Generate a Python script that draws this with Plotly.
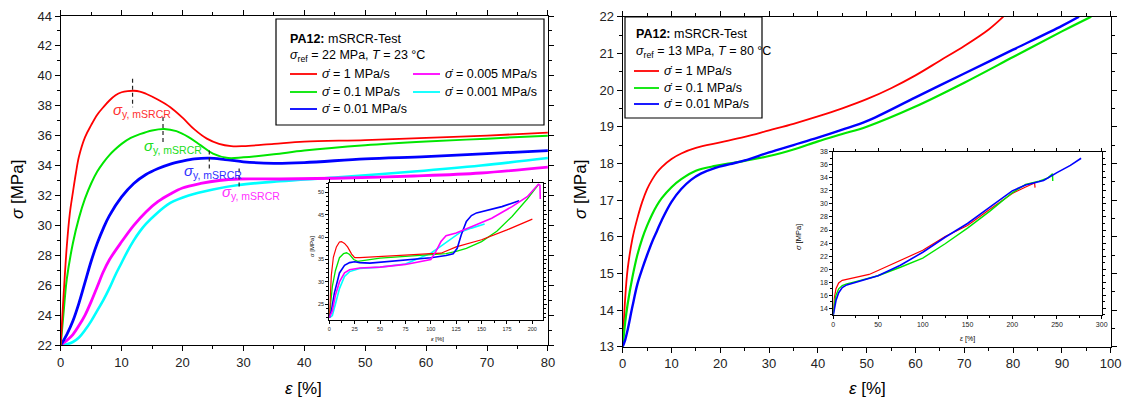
import plotly.graph_objects as go

W, H = 1123, 400
FONT = "Liberation Sans, Arial, sans-serif"

# ---------------- data: left main (T = 23 °C) ----------------
L_red_eps = [0, 0.25, 0.5, 1, 1.5, 2, 2.5, 3, 4, 5, 6, 7, 8, 9, 10, 11, 12, 13, 14, 16, 18, 20, 22, 24, 26, 28, 30, 35, 40, 50, 60, 70, 80]
L_red_sig = [22, 23.8, 25.5, 28.6, 30.8, 32.2, 33.5, 34.6, 35.9, 36.7, 37.4, 37.9, 38.35, 38.7, 38.9, 38.98, 39.0, 38.95, 38.8, 38.4, 37.9, 37.2, 36.4, 35.8, 35.45, 35.3, 35.3, 35.45, 35.6, 35.7, 35.85, 36.0, 36.2]
L_grn_eps = [0, 0.5, 1, 2, 3, 4, 5, 6, 7, 8, 9, 10, 11.5, 13, 15, 17, 19, 21, 23, 25, 27.5, 30, 35, 40, 50, 60, 70, 80]
L_grn_sig = [22, 24.3, 26.4, 28.8, 30.5, 31.8, 32.8, 33.6, 34.2, 34.7, 35.1, 35.45, 35.85, 36.1, 36.35, 36.45, 36.3, 35.9, 35.35, 34.8, 34.5, 34.55, 34.75, 35.0, 35.35, 35.6, 35.8, 36.0]
L_blu_eps = [0, 1, 2, 3, 4, 5, 6, 7, 8, 10, 12, 14, 16, 18, 20, 22, 24.4, 27, 30, 35, 40, 50, 60, 70, 80]
L_blu_sig = [22, 22.7, 23.6, 24.8, 26.2, 27.6, 28.8, 29.8, 30.65, 31.9, 32.8, 33.4, 33.8, 34.1, 34.3, 34.45, 34.5, 34.4, 34.25, 34.15, 34.2, 34.45, 34.6, 34.8, 35.0]
L_mag_eps = [0, 1, 2, 3, 4, 5, 6, 7, 8, 10, 12, 14, 16, 18, 20, 23, 26, 29.3, 36, 45, 58, 69, 80]
L_mag_sig = [22, 22.3, 22.7, 23.3, 24.0, 24.9, 25.9, 26.9, 27.7, 28.9, 30.0, 30.9, 31.6, 32.1, 32.5, 32.8, 33.0, 33.1, 33.1, 33.15, 33.3, 33.5, 33.9]
L_cya_eps = [0, 1, 2, 3, 4, 5, 6, 7, 8, 9, 10, 11, 12, 13, 14, 15.5, 18, 21, 25, 29.2, 36, 45, 58, 69, 80]
L_cya_sig = [22, 22.05, 22.2, 22.5, 23.0, 23.6, 24.3, 25.0, 25.8, 26.7, 27.5, 28.3, 29.0, 29.6, 30.1, 30.7, 31.5, 32.0, 32.4, 32.7, 32.95, 33.2, 33.6, 34.0, 34.5]

# yield points sigma_y,mSRCR (red, green, blue, magenta)
yield_eps = [11.8, 16.8, 24.4, 29.3]
yield_sig = [39.0, 36.45, 34.5, 33.1]

# ---------------- data: left inset ----------------
LI_red_eps = [0, 1, 2, 4, 7, 10, 12, 15, 18, 22, 25, 30, 50, 75, 100, 110, 118, 125, 150, 175, 200]
LI_red_sig = [22, 28, 31.5, 35.5, 37.8, 38.9, 39.0, 38.6, 37.8, 36.2, 35.4, 35.4, 35.7, 36.0, 36.3, 36.4, 37.2, 37.8, 39.4, 41.6, 44.0]
LI_grn_eps = [0, 1, 3, 6, 10, 14, 17, 20, 24, 28, 35, 50, 75, 100, 115, 125, 135, 150, 165, 180, 195, 206]
LI_grn_sig = [22, 25, 29, 32.5, 35.4, 36.3, 36.5, 36.1, 35.0, 34.6, 34.8, 35.3, 35.7, 36.0, 36.3, 36.8, 37.5, 39.0, 41.3, 44.6, 48.5, 51.7]
LI_blu_eps = [0, 2, 5, 10, 15, 20, 25, 30, 40, 60, 80, 100, 115, 122, 126, 130, 135, 140, 145, 155, 170, 187]
LI_blu_sig = [22, 23.5, 27.5, 32, 33.7, 34.3, 34.5, 34.3, 34.2, 34.6, 35.0, 35.4, 35.9, 36.3, 37.5, 40.5, 43.5, 44.8, 45.4, 46.0, 46.8, 48.1]
LI_mag_eps = [0, 3, 6, 10, 15, 20, 30, 50, 75, 95, 100, 105, 110, 115, 125, 140, 160, 180, 195, 206, 207.5, 207.8]
LI_mag_sig = [22, 23.5, 27, 30, 32, 32.7, 33.1, 33.3, 33.9, 34.7, 35.0, 36.8, 39.0, 40.3, 40.9, 42.3, 44.2, 46.8, 49.0, 51.8, 51.6, 48.5]
LI_cya_eps = [0, 3, 6, 10, 15, 20, 30, 50, 75, 100, 110, 120, 130, 140, 153]
LI_cya_sig = [22, 22.5, 25, 28.5, 31.2, 32.3, 33.0, 33.3, 34.0, 36.4, 38.0, 39.7, 41.2, 42.0, 42.9]

# ---------------- data: right main (T = 80 °C) ----------------
R_red_eps = [0, 0.5, 1, 2, 3, 4, 5, 6, 7, 8, 10, 12, 15, 20, 25, 30, 35, 40, 45, 50, 55, 60, 65, 70, 75, 78]
R_red_sig = [13, 14.3, 15.1, 15.95, 16.5, 16.95, 17.3, 17.55, 17.75, 17.9, 18.12, 18.27, 18.42, 18.57, 18.72, 18.9, 19.08, 19.28, 19.5, 19.75, 20.05, 20.4, 20.8, 21.2, 21.65, 22.0]
R_grn_eps = [0, 0.5, 1, 2, 3, 4, 5, 6, 7, 8, 10, 12, 15, 19, 22, 25, 30, 35, 40, 45, 50, 60, 70, 80, 90, 96]
R_grn_sig = [13, 13.65, 14.15, 14.9, 15.5, 15.95, 16.3, 16.6, 16.85, 17.05, 17.35, 17.57, 17.8, 17.93, 18.0, 18.07, 18.2, 18.38, 18.6, 18.8, 19.0, 19.55, 20.2, 20.9, 21.6, 22.0]
R_blu_eps = [0, 0.5, 1, 2, 3, 4, 5, 6, 7, 8, 10, 12, 14, 16, 19, 22, 25, 30, 35, 40, 45, 50, 60, 70, 80, 90, 93.5]
R_blu_sig = [13, 13.18, 13.45, 14.1, 14.7, 15.12, 15.5, 15.85, 16.15, 16.45, 16.95, 17.3, 17.55, 17.72, 17.88, 17.98, 18.08, 18.3, 18.5, 18.7, 18.92, 19.15, 19.8, 20.45, 21.1, 21.75, 22.0]

# ---------------- data: right inset ----------------
RI_red_eps = [0, 1, 3, 6, 10, 15, 25, 40, 50, 75, 100, 125, 150, 175, 200, 215, 225, 225.5]
RI_red_sig = [13, 15.5, 17.0, 17.9, 18.3, 18.45, 18.7, 19.2, 19.8, 21.3, 22.9, 25.0, 26.7, 29.2, 31.6, 32.6, 33.2, 32.5]
RI_grn_eps = [0, 1, 3, 6, 10, 15, 25, 40, 50, 75, 100, 125, 150, 175, 200, 215, 230, 240, 245, 245.3]
RI_grn_sig = [13, 14.5, 16.0, 17.0, 17.5, 17.75, 18.1, 18.6, 19.0, 20.3, 21.7, 23.9, 26.3, 28.9, 31.7, 33.0, 33.5, 34.0, 34.6, 33.5]
RI_blu_eps = [0, 1, 3, 6, 10, 15, 25, 40, 50, 75, 100, 125, 150, 175, 200, 215, 225, 235, 250, 265, 277]
RI_blu_sig = [13, 13.8, 15.2, 16.4, 17.2, 17.6, 18.0, 18.5, 19.0, 20.6, 22.6, 24.9, 27.0, 29.5, 32.0, 32.9, 33.2, 33.6, 34.8, 35.9, 37.0]

RED, GRN, BLU, MAG, CYA = "#ff0000", "#00e600", "#0000ff", "#ff00ff", "#00ffff"

def px(x):
    return x / W

def py(y):
    return 1 - y / H

fig = go.Figure()

def add(xs, ys, color, width, xa, ya, shape="spline"):
    fig.add_trace(go.Scatter(x=xs, y=ys, mode="lines", xaxis=xa, yaxis=ya,
                             line=dict(color=color, width=width, shape=shape, smoothing=1.0),
                             showlegend=False, hoverinfo="skip"))

# left main
add(L_cya_eps, L_cya_sig, CYA, 2.6, "x", "y")
add(L_mag_eps, L_mag_sig, MAG, 2.8, "x", "y")
add(L_blu_eps, L_blu_sig, BLU, 2.8, "x", "y")
add(L_grn_eps, L_grn_sig, GRN, 2.0, "x", "y")
add(L_red_eps, L_red_sig, RED, 1.8, "x", "y")
# left inset
add(LI_cya_eps, LI_cya_sig, CYA, 1.6, "x2", "y2", "linear")
add(LI_grn_eps, LI_grn_sig, GRN, 1.3, "x2", "y2", "linear")
add(LI_red_eps, LI_red_sig, RED, 1.2, "x2", "y2", "linear")
add(LI_blu_eps, LI_blu_sig, BLU, 1.6, "x2", "y2", "linear")
add(LI_mag_eps, LI_mag_sig, MAG, 1.6, "x2", "y2", "linear")
# right main
add(R_red_eps, R_red_sig, RED, 1.8, "x3", "y3")
add(R_grn_eps, R_grn_sig, GRN, 2.2, "x3", "y3")
add(R_blu_eps, R_blu_sig, BLU, 2.4, "x3", "y3")
# right inset
add(RI_red_eps, RI_red_sig, RED, 1.2, "x4", "y4", "linear")
add(RI_grn_eps, RI_grn_sig, GRN, 1.4, "x4", "y4", "linear")
add(RI_blu_eps, RI_blu_sig, BLU, 1.6, "x4", "y4", "linear")

# yield markers (dashed verticals)
up = [0.8, 0.8, 0.5, 0.7]
dn = [1.1, 0.95, 0.8, 0.7]
for e, s, u, d in zip(yield_eps, yield_sig, up, dn):
    fig.add_trace(go.Scatter(x=[e, e], y=[s + u, s - d], mode="lines", xaxis="x", yaxis="y",
                             line=dict(color="#222222", width=1.2, dash="4px,3px"),
                             showlegend=False, hoverinfo="skip"))

def axis(domain, rng, dtick, minor, fs, anchor, ticklen=5, mticklen=3):
    return dict(domain=domain, range=rng, dtick=dtick, tick0=0, ticks="outside",
                ticklen=ticklen, tickwidth=1, tickcolor="black",
                minor=dict(ticks="outside", dtick=minor, ticklen=mticklen, tickcolor="black", tickwidth=1),
                showline=True, linecolor="black", linewidth=1.2, mirror="ticks",
                showgrid=False, zeroline=False, anchor=anchor, automargin=False,
                tickfont=dict(family=FONT, size=fs, color="#222"))

yd = lambda top, bot: [py(bot), py(top)]

fig.update_layout(
    width=W, height=H, margin=dict(l=0, r=0, t=0, b=0, autoexpand=False),
    paper_bgcolor="white", plot_bgcolor="rgba(0,0,0,0)", showlegend=False,
    xaxis=axis([px(60.7), px(547.9)], [0, 80], 10, 5, 13, "y"),
    yaxis=axis(yd(16, 345), [22, 44], 2, 1, 13, "x"),
    xaxis2=axis([px(329.3), px(542.5)], [0, 210], 25, 12.5, 5.5, "y2", 3, 2),
    yaxis2=axis(yd(183.3, 320), [21.5, 52], 5, 1, 5.5, "x2", 3, 2),
    xaxis3=axis([px(622.7), px(1110.7)], [0, 100], 10, 5, 13, "y3"),
    yaxis3=axis(yd(16.7, 346.7), [13, 22], 1, 0.5, 13, "x3"),
    xaxis4=axis([px(833.3), px(1101.7)], [0, 300], 50, 25, 7, "y4", 3, 2),
    yaxis4=axis(yd(151.7, 314.9), [13, 38], 2, 1, 7, "x4", 3, 2),
)

ann = []
def text(x, y, t, size, color="black", xanchor="left", angle=0):
    ann.append(dict(x=px(x), y=py(y), xref="paper", yref="paper", text=t, showarrow=False,
                    xanchor=xanchor, yanchor="middle", textangle=angle,
                    font=dict(family=FONT, size=size, color=color)))

# axis titles
text(17, 190, "<i>σ</i> [MPa]", 17, xanchor="center", angle=-90)
text(580, 190, "<i>σ</i> [MPa]", 17, xanchor="center", angle=-90)
text(303, 388, "<i>ε</i> [%]", 17, xanchor="center")
text(867, 388, "<i>ε</i> [%]", 17, xanchor="center")
# inset titles
text(312, 247, "<i>σ</i> [MPa]", 6, xanchor="center", angle=-90)
text(437, 339, "<i>ε</i> [%]", 6, xanchor="center")
text(798, 237, "<i>σ</i> [MPa]", 7.5, xanchor="center", angle=-90)
text(967, 339, "<i>ε</i> [%]", 7, xanchor="center")

# yield labels
lab = "<i>σ</i><sub>y, mSRCR</sub>"
text(142, 110, lab, 15, "#ff3030", "center")
text(173, 147, lab, 15, "#20dd20", "center")
text(213, 172, lab, 15, "#3030ff", "center")
text(251, 193, lab, 15, "#ff30ff", "center")

SD = "<i>σ\u0307</i>"
shapes = []
def line(x0, x1, y, color):
    shapes.append(dict(type="line", xref="paper", yref="paper", x0=px(x0), x1=px(x1),
                       y0=py(y), y1=py(y), line=dict(color=color, width=1.8)))

# left legend
shapes.append(dict(type="rect", xref="paper", yref="paper", x0=px(276), x1=px(544), y0=py(125), y1=py(19),
                   line=dict(color="black", width=1.2), fillcolor="white", layer="above"))
text(288, 39, "<b>PA12:</b> mSRCR-Test", 12.5)
text(288, 56, "<i>σ</i><sub>ref</sub> = 22 MPa, <i>T</i> = 23 °C", 12.5)
for (y, c, t) in [(74, RED, "1"), (92, GRN, "0.1"), (109, BLU, "0.01")]:
    line(290, 317, y, c)
    text(320, y, f"{SD} = {t} MPa/s", 12.5)
for (y, c, t) in [(74, MAG, "0.005"), (92, CYA, "0.001")]:
    line(413, 440, y, c)
    text(443, y, f"{SD} = {t} MPa/s", 12.5)

# right legend
shapes.append(dict(type="rect", xref="paper", yref="paper", x0=px(625), x1=px(762), y0=py(118), y1=py(17),
                   line=dict(color="black", width=1.2), fillcolor="white", layer="above"))
text(634, 34, "<b>PA12:</b> mSRCR-Test", 12.5)
text(634, 52, "<i>σ</i><sub>ref</sub> = 13 MPa, <i>T</i> = 80 °C", 12.5)
for (y, c, t) in [(71, RED, "1"), (88, GRN, "0.1"), (104, BLU, "0.01")]:
    line(634, 659, y, c)
    text(662, y, f"{SD} = {t} MPa/s", 12.5)

fig.update_layout(annotations=ann, shapes=shapes)
fig.write_html("out.html")
